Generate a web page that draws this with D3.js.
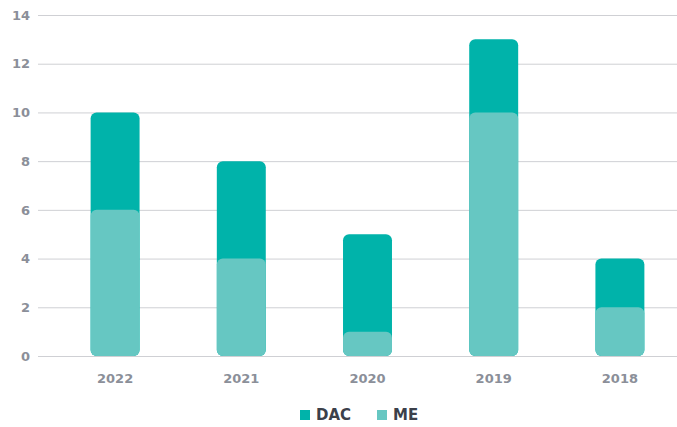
<!DOCTYPE html>
<html>
<head>
<meta charset="utf-8">
<script src="https://cdn.jsdelivr.net/npm/d3@7"></script>
<style>
  body { margin: 0; background: #fff; }
  text { font-family: "DejaVu Sans", sans-serif; }
</style>
</head>
<body>
<div id="chart"></div>
<script>
var years = ['2022', '2021', '2020', '2019', '2018'];
var dacValues = [10, 8, 5, 13, 4];   // full DAC bar height
var meValues = [6, 4, 1, 10, 2];     // ME drawn over DAC
var yTicks = [0, 2, 4, 6, 8, 10, 12, 14];
var seriesNames = ['DAC', 'ME'];
var seriesColors = ['#00b3aa', '#66c7c2'];

var width = 677, height = 427;

var svg = d3.select('#chart').append('svg')
    .attr('width', width)
    .attr('height', height);

var x = d3.scaleBand()
    .domain(years)
    .range([52, 683])
    .paddingInner(0.612)
    .paddingOuter(0.306);

var y = d3.scaleLinear()
    .domain([0, 14])
    .range([356, 15]);

// grid
var yAxis = d3.axisLeft(y)
    .tickValues(yTicks)
    .tickSize(-(677 - 38))
    .tickPadding(8);

var gy = svg.append('g')
    .attr('transform', 'translate(38,0)')
    .call(yAxis);
gy.select('.domain').remove();
gy.selectAll('.tick line')
    .attr('stroke', '#cfd0d4')
    .attr('stroke-width', 1);
gy.selectAll('.tick text')
    .attr('fill', '#8b8f99')
    .attr('font-size', 13)
    .attr('font-weight', 'bold');

// bars
function drawBars(values, color) {
    svg.append('g').selectAll('rect')
        .data(values)
        .enter().append('rect')
        .attr('x', function(d, i) { return x(years[i]); })
        .attr('y', function(d) { return y(d); })
        .attr('width', x.bandwidth())
        .attr('height', function(d) { return y(0) - y(d); })
        .attr('rx', 6)
        .attr('fill', color);
}
drawBars(dacValues, seriesColors[0]);
drawBars(meValues, seriesColors[1]);

// x axis labels
var xAxis = d3.axisBottom(x).tickSize(0).tickPadding(18);
var gx = svg.append('g')
    .attr('transform', 'translate(0,356)')
    .call(xAxis);
gx.select('.domain').remove();
gx.selectAll('.tick text')
    .attr('fill', '#8b8f99')
    .attr('font-size', 13)
    .attr('font-weight', 'bold');

// legend
var legendPos = [300, 377];
var legend = svg.append('g').selectAll('g')
    .data(seriesNames)
    .enter().append('g')
    .attr('transform', function(d, i) { return 'translate(' + legendPos[i] + ',410)'; });
legend.append('rect')
    .attr('width', 10)
    .attr('height', 10)
    .attr('fill', function(d, i) { return seriesColors[i]; });
legend.append('text')
    .attr('x', 16)
    .attr('y', 10)
    .attr('fill', '#3b404a')
    .attr('font-size', 15)
    .attr('font-weight', 'bold')
    .text(function(d) { return d; });
</script>
</body>
</html>
